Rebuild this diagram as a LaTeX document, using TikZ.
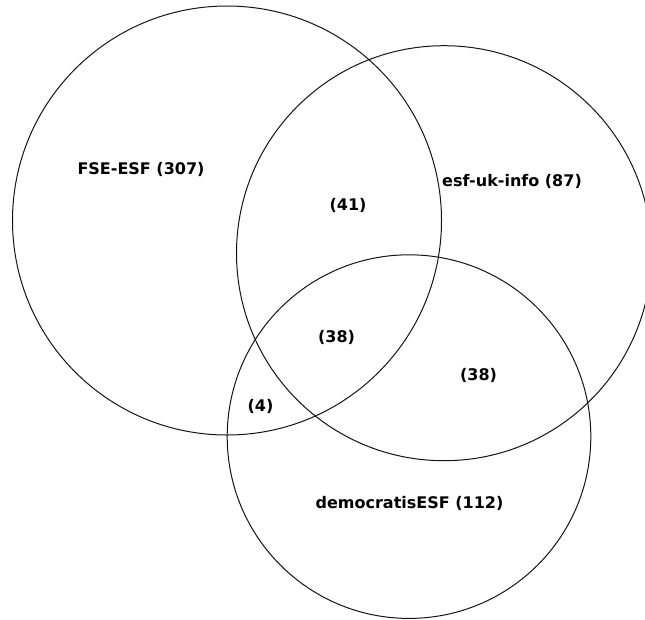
\documentclass[tikz,border=0pt]{standalone}
\usepackage{fontspec}
\setmainfont{DejaVu Sans}
\tikzset{every picture/.style={line width=0.75pt}}
\tikzset{setlabel/.style={align=left,font=\fontsize{12}{14}\selectfont\bfseries}}

\begin{document}
\begin{tikzpicture}[x=0.75pt,y=0.75pt,yscale=-1,xscale=1]
    \useasboundingbox (0,0) rectangle (645,619);
    \clip (0,0) rectangle (645,619);

    %Shape: Circle [FSE-ESF]
    \draw [color={rgb, 255:red, 20; green, 20; blue, 20 }] (227,220.5) circle [x radius=214.5, y radius=214.5];
    %Shape: Circle [esf-uk-info]
    \draw [color={rgb, 255:red, 20; green, 20; blue, 20 }] (444,253.2) circle [x radius=207.5, y radius=207.5];
    %Shape: Circle [democratisESF]
    \draw [color={rgb, 255:red, 20; green, 20; blue, 20 }] (409,436.6) circle [x radius=181.8, y radius=181.8];

    % Text Node
    \node (fse) at (141,169) [setlabel] {FSE-ESF (307)};
    % Text Node
    \node (ukinfo) at (512,181) [setlabel] {esf-uk-info (87)};
    % Text Node
    \node (demo) at (409.5,503) [setlabel] {democratisESF (112)};
    % Text Node
    \node (fseuk) at (348,205) [setlabel] {(41)};
    % Text Node
    \node (all) at (336.5,337) [setlabel] {(38)};
    % Text Node
    \node (ukdemo) at (478.5,375) [setlabel] {(38)};
    % Text Node
    \node (fsedemo) at (260.5,406) [setlabel] {(4)};
\end{tikzpicture}
\end{document}
